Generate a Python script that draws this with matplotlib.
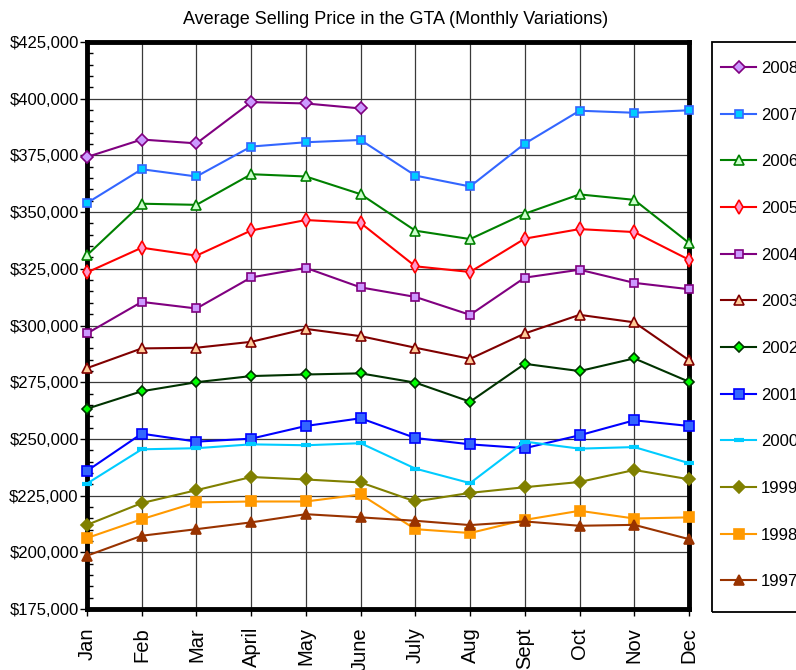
import numpy as np
import matplotlib
matplotlib.use("Agg")
import matplotlib.pyplot as plt
from matplotlib.ticker import MultipleLocator, FuncFormatter
from matplotlib.patches import Rectangle

plt.rcParams['font.family'] = ['Liberation Sans', 'DejaVu Sans']

months = ["Jan", "Feb", "Mar", "April", "May", "June", "July", "Aug", "Sept", "Oct", "Nov", "Dec"]
nan = np.nan

y2008 = [374300, 382000, 380300, 398500, 397900, 395700, nan, nan, nan, nan, nan, nan]
y2007 = [354000, 368900, 365700, 378900, 380800, 381800, 366100, 361300, 380200, 394700, 393800, 394900]
y2006 = [331000, 353700, 353200, 366700, 365700, 357900, 341800, 338100, 349300, 357800, 355400, 336400]
y2005 = [323400, 334300, 330800, 341900, 346500, 345200, 326100, 323600, 338300, 342500, 341200, 329000]
y2004 = [296500, 310400, 307500, 321200, 325400, 316800, 312600, 304700, 321100, 324600, 318800, 316000]
y2003 = [281200, 289900, 290200, 292800, 298500, 295300, 290200, 285300, 296500, 304700, 301400, 284700]
y2002 = [263300, 271000, 275000, 277700, 278400, 278900, 274800, 266400, 283100, 279900, 285500, 275200]
y2001 = [235900, 252300, 248800, 250100, 255700, 259100, 250400, 247600, 245900, 251600, 258200, 255700]
y2000 = [230300, 245400, 245900, 247600, 247200, 248100, 236900, 230500, 248800, 245700, 246400, 239300]
y1999 = [212100, 221700, 227400, 233200, 232100, 230800, 222400, 226200, 228700, 231000, 236300, 232200]
y1998 = [206300, 214600, 222000, 222400, 222400, 225500, 210200, 208500, 214300, 218300, 214900, 215400]
y1997 = [198500, 207300, 210200, 213200, 216800, 215400, 213900, 212000, 213600, 211700, 212100, 205800]

series_labels = ["2008", "2007", "2006", "2005", "2004", "2003", "2002", "2001", "2000", "1999", "1998", "1997"]
series_values = [y2008, y2007, y2006, y2005, y2004, y2003, y2002, y2001, y2000, y1999, y1998, y1997]

# style: (line color, marker, marker face, marker edge, marker size)
styles = [
    ("#800080", "D", "#CC99FF", "#800080", 6.0),
    ("#3366FF", "s", "#00CCFF", "#3366FF", 5.5),
    ("#008000", "^", "#CCFFCC", "#008000", 6.5),
    ("#FF0000", "d", "#FF99CC", "#FF0000", 7.0),
    ("#800080", "s", "#CC99FF", "#800080", 6.0),
    ("#800000", "^", "#FFCC99", "#800000", 6.5),
    ("#003300", "D", "#00FF00", "#003300", 5.0),
    ("#0000FF", "s", "#3366FF", "#0000FF", 6.5),
    ("#00CCFF", "_", "#00CCFF", "#00CCFF", 7.0),
    ("#808000", "D", "#808000", "#808000", 6.0),
    ("#FF9900", "s", "#FF9900", "#FF9900", 6.5),
    ("#993300", "^", "#993300", "#993300", 7.5),
]

fig = plt.figure(figsize=(7.96, 6.70), dpi=100)
ax = fig.add_axes([87/796, 1-609/670, (689-87)/796, (609-42)/670])

x = np.arange(len(months))
handles = []
for lab, vals, st in zip(series_labels, series_values, styles):
    lc, mk, mf, me, ms = st
    mew = 3.0 if mk == "_" else 1.2
    h, = ax.plot(x, vals, color=lc, lw=1.5, marker=mk, markersize=ms,
                 markerfacecolor=mf, markeredgecolor=me, markeredgewidth=mew,
                 label=lab, zorder=3, clip_on=False)
    handles.append(h)

ax.set_xlim(0, 11)
ax.set_ylim(175000, 425000)
ax.yaxis.set_major_locator(MultipleLocator(25000))
ax.yaxis.set_minor_locator(MultipleLocator(5000))
ax.yaxis.set_major_formatter(FuncFormatter(lambda v, p: "${:,.0f}".format(v)))
ax.set_xticks(x)
ax.set_xticklabels(months, rotation=90, fontsize=14.5)
ax.tick_params(axis='y', which='major', direction='out', length=5, width=1, labelsize=12, pad=1)
ax.tick_params(axis='y', which='minor', direction='in', length=4, width=1)
ax.tick_params(axis='x', which='major', direction='out', length=5, width=1, pad=8)
ax.grid(True, which='major', color='#3a3a3a', lw=0.9)
ax.set_axisbelow(True)
for s in ax.spines.values():
    s.set_linewidth(3.5)
    s.set_color('black')

fig.text(396/796, 1-19/670, "Average Selling Price in the GTA (Monthly Variations)",
         ha='center', va='center', fontsize=13)

# legend frame
fig.patches.append(Rectangle((712/796, 1-612/670), 100/796, (612-42)/670,
                             transform=fig.transFigure, fill=False, edgecolor='black', lw=1.3))
leg = fig.legend(handles=handles, loc='upper left', bbox_to_anchor=(721/796, 1-61/670),
                 frameon=False, fontsize=12, labelspacing=1.90, borderpad=0, borderaxespad=0,
                 handlelength=2.1, handletextpad=0.3)

fig.savefig("out.png", dpi=100)
